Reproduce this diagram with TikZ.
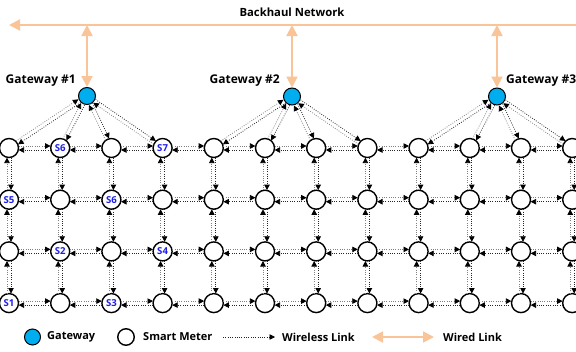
\documentclass[tikz,border=0pt]{standalone}
\usepackage{fontspec}
\setmainfont{Open Sans}
\usetikzlibrary{arrows.meta,calc}
\definecolor{wired}{RGB}{249,196,152}
\definecolor{gwblue}{RGB}{0,174,239}
\definecolor{slabel}{RGB}{30,30,235}
\expandafter\def\csname lab1-0\endcsname{S6}
\expandafter\def\csname lab3-0\endcsname{S7}
\expandafter\def\csname lab0-1\endcsname{S5}
\expandafter\def\csname lab2-1\endcsname{S6}
\expandafter\def\csname lab1-2\endcsname{S2}
\expandafter\def\csname lab3-2\endcsname{S4}
\expandafter\def\csname lab0-3\endcsname{S1}
\expandafter\def\csname lab2-3\endcsname{S3}
\newcommand\wlink[3][]{%
  \draw[wl,#1] ($(#2.center)!2pt!90:(#3.center)$) -- ($(#3.center)!2pt!-90:(#2.center)$);}
\begin{document}
\begin{tikzpicture}[x=1pt,y=-1pt,
  meter/.style={circle,draw=black,line width=1.4pt,fill=white,minimum size=19pt,inner sep=0pt,
     font=\bfseries\fontsize{9.6}{10}\selectfont,text=slabel},
  gw/.style={circle,draw=black,line width=1pt,fill=gwblue,minimum size=17pt,inner sep=0pt},
  wl/.style={line width=0.8pt,dash pattern=on 0.8pt off 1.5pt,
     -{Triangle[length=5.5pt,width=5.5pt,black]},shorten >=9.6pt,shorten <=9.6pt},
  lightl/.style={draw=black!50},
  darkl/.style={draw=black!85},
  wired/.style={draw=wired,line width=2pt,{Triangle[length=11pt,width=11pt]}-{Triangle[length=11pt,width=11pt]}},
  lbl/.style={font=\bfseries\fontsize{12}{14}\selectfont,inner sep=0pt},
  leg/.style={font=\bfseries\fontsize{11}{13}\selectfont,inner sep=0pt,anchor=west}]
\useasboundingbox (0,0) rectangle (576,351);
\clip (0,0) rectangle (576,351);
% backhaul
\coordinate (bl) at (9,25);
\coordinate (br) at (594,25);
\draw[wired] (bl) -- (br);
\node[lbl,font=\bfseries\fontsize{11.3}{13}\selectfont] (bh) at (292,12) {Backhaul Network};
% gateways
\node[gw] (g1) at (87,96) {};
\node[gw] (g2) at (292,96.5) {};
\node[gw] (g3) at (497,96.5) {};
\coordinate (t1) at (87,25);
\coordinate (t2) at (292,25);
\coordinate (t3) at (497,25);
\draw[wired] (t1) -- (g1.north);
\draw[wired] (t2) -- (g2.north);
\draw[wired] (t3) -- (g3.north);
\node[lbl,anchor=east] (gl1) at (76,81) {Gateway \#1};
\node[lbl,anchor=east] (gl2) at (280,81) {Gateway \#2};
\node[lbl,anchor=west] (gl3) at (506,81) {Gateway \#3};
% meters
\foreach \i in {0,...,11}
  \foreach \j in {0,...,3}
    \node[meter] (m-\i-\j) at ({9+51.2*\i},{148+51.7*\j})
      {\ifcsname lab\i-\j\endcsname\csname lab\i-\j\endcsname\fi};
% horizontal links
\foreach \i in {0,...,10}{
  \pgfmathtruncatemacro\k{\i+1}
  \foreach \j in {0,...,3}{
    \wlink[lightl]{m-\i-\j}{m-\k-\j}
    \wlink[darkl]{m-\k-\j}{m-\i-\j}
  }}
% vertical links
\foreach \i in {0,...,11}{
  \foreach \j in {0,1,2}{
    \pgfmathtruncatemacro\k{\j+1}
    \wlink[darkl]{m-\i-\j}{m-\i-\k}
    \wlink[lightl]{m-\i-\k}{m-\i-\j}
  }}
% gateway links
\foreach \g/\a in {1/0,2/4,3/8}{
  \foreach \d in {0,1,2,3}{
    \pgfmathtruncatemacro\c{\a+\d}
    \wlink[darkl,shorten <=9pt]{g\g}{m-\c-0}
    \wlink[lightl,shorten >=9pt]{m-\c-0}{g\g}
  }}
% legend
\node[gw,minimum size=16pt] (lg) at (32.5,337) {};
\node[leg] (lgt) at (47,337) {Gateway};
\node[meter,minimum size=16.5pt] (lm) at (126,337) {};
\node[leg] (lmt) at (143,337) {Smart Meter};
\coordinate (lw1) at (223,337);
\coordinate (lw2) at (275,337);
\draw[wl,darkl,shorten >=0pt,shorten <=0pt] (lw1) -- (lw2);
\node[leg] (lwt) at (282,337) {Wireless Link};
\coordinate (ld1) at (372,337);
\coordinate (ld2) at (434,337);
\draw[wired,line width=1.8pt] (ld1) -- (ld2);
\node[leg] (ldt) at (443,337) {Wired Link};
\end{tikzpicture}
\end{document}
